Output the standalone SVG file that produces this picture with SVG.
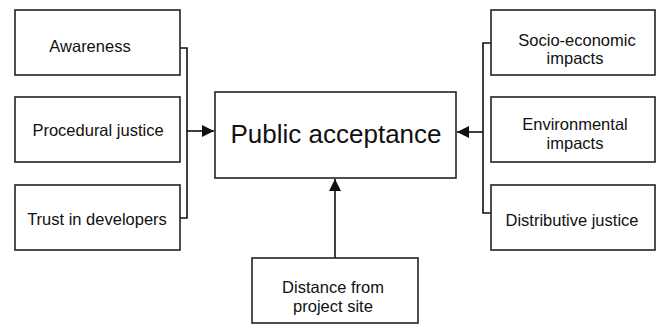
<svg xmlns="http://www.w3.org/2000/svg" width="659" height="325" viewBox="0 0 659 325">
<defs>
<style>
.box{fill:#fff;stroke:#222;stroke-width:1.6}
.t{font-family:"Liberation Sans",Arial,sans-serif;font-size:16.5px;fill:#111;text-anchor:middle}
.big{font-family:"Liberation Sans",Arial,sans-serif;font-size:26px;fill:#111;text-anchor:middle}
.c{fill:none;stroke:#111;stroke-width:1.6}
</style>
<marker id="ah" viewBox="0 0 12 12" refX="12" refY="6" markerWidth="12" markerHeight="12" markerUnits="userSpaceOnUse" orient="auto">
<path d="M0,0 L12,6 L0,12 Z" fill="#111"/>
</marker>
</defs>
<rect width="659" height="325" fill="#fff"/>
<g id="connectors">
<path class="c" d="M180,48 H187 V218 H180"/>
<path class="c" d="M187,131 H214" marker-end="url(#ah)"/>
<path class="c" d="M491,43 H483 V213 H491"/>
<path class="c" d="M483,132 H457" marker-end="url(#ah)"/>
<path class="c" d="M335,258 V179" marker-end="url(#ah)"/>
</g>
<g id="awareness"><rect class="box" x="15" y="10" width="165" height="65"/><text class="t" x="90" y="52">Awareness</text></g>
<g id="procedural"><rect class="box" x="15" y="97" width="165" height="65"/><text class="t" x="98" y="136">Procedural justice</text></g>
<g id="trust"><rect class="box" x="15" y="185" width="165" height="65"/><text class="t" x="97" y="225">Trust in developers</text></g>
<g id="public"><rect class="box" x="215" y="92" width="241" height="86"/><text class="big" x="336" y="143">Public acceptance</text></g>
<g id="socio"><rect class="box" x="491" y="10" width="164" height="65"/><text class="t" x="577" y="46">Socio-economic</text><text class="t" x="575" y="64">impacts</text></g>
<g id="environmental"><rect class="box" x="491" y="97" width="164" height="65"/><text class="t" x="575" y="130">Environmental</text><text class="t" x="575" y="149">impacts</text></g>
<g id="distributive"><rect class="box" x="491" y="185" width="164" height="65"/><text class="t" x="572" y="226">Distributive justice</text></g>
<g id="distance"><rect class="box" x="252" y="258" width="166" height="65"/><text class="t" x="333" y="293">Distance from</text><text class="t" x="333" y="312">project site</text></g>
</svg>
